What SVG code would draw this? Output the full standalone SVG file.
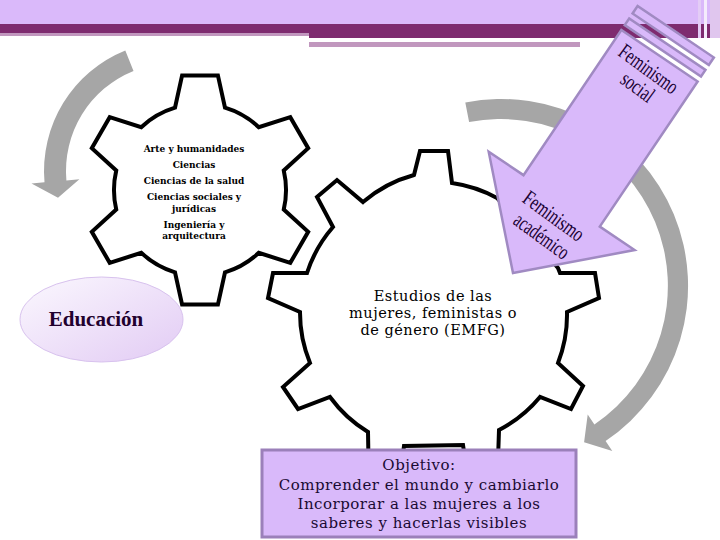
<svg xmlns="http://www.w3.org/2000/svg" width="720" height="540" viewBox="0 0 720 540">
<defs>
<linearGradient id="eduGrad" x1="0" y1="0" x2="1" y2="1">
<stop offset="0" stop-color="#FBF8FE"/>
<stop offset="1" stop-color="#E2CBF4"/>
</linearGradient>
</defs>
<style>
.gear{fill:#fff;stroke:#000;stroke-width:4;stroke-linejoin:miter}
.gray{fill:#A6A6A6}
.lav{fill:#D9B9FA;stroke:#A08AC2;stroke-width:2.5}
.fem{font-family:"Liberation Serif","Times New Roman",serif;font-size:22px;fill:#1a0033;text-anchor:middle}
.areas{font-family:"DejaVu Serif",serif;font-weight:bold;font-size:9px;fill:#000;text-anchor:middle}
.emfg{font-family:"DejaVu Serif",serif;font-size:14.5px;fill:#000;text-anchor:middle;letter-spacing:0.5px}
.obj{font-family:"DejaVu Serif",serif;font-size:15px;fill:#1a0a33;text-anchor:middle;letter-spacing:0.5px}
.edu{font-family:"Liberation Serif",serif;font-weight:bold;font-size:21px;fill:#22002e;text-anchor:middle}
</style>
<rect width="720" height="540" fill="#fff"/>
<g id="banner">
<rect width="720" height="24" fill="#DAB9FA"/>
<rect y="24" width="720" height="9" fill="#7E2B6F"/>
<rect y="33" width="309" height="3" fill="#C197BE"/>
<rect x="309" y="33" width="411" height="5" fill="#7E2B6F"/>
<rect x="309" y="42" width="271" height="5" fill="#C197BE"/>
<rect x="698" y="0" width="3" height="38" fill="#E3CCF6"/>
<rect x="704" y="0" width="3" height="38" fill="#F4ECFC"/>
<rect x="710" y="0" width="10" height="38" fill="#E0C6EE"/>
</g>
<g id="connectors">
<path class="gray" d="M125.3,50.5 A130,130 0 0 0 44.5,182.3 L31.5,183.5 L58,197.8 L79.4,179.3 L66.4,180.4 A108,108 0 0 1 133.5,70.9 Z"/>
<path class="gray" d="M465.3,102.4 A187,187 0 0 1 605.6,441 L612.3,451 L584.1,442.3 L587.7,414.5 L594.4,424.4 A167,167 0 0 0 469.1,122.1 Z"/>
</g>
<g id="gear-areas">
<path class="gear" transform="translate(200,190)" d="M-25,-82.3 L-17.9,-114.6 L17.9,-114.6 L25,-82.3 A86,86 0 0 1 58.77,-62.8 L90.29,-72.8 L108.19,-41.8 L83.77,-19.5 A86,86 0 0 1 83.77,19.5 L108.19,41.8 L90.29,72.8 L58.77,62.8 A86,86 0 0 1 25,82.3 L17.9,114.6 L-17.9,114.6 L-25,82.3 A86,86 0 0 1 -58.77,62.8 L-90.29,72.8 L-108.19,41.8 L-83.77,19.5 A86,86 0 0 1 -83.77,-19.5 L-108.19,-41.8 L-90.29,-72.8 L-58.77,-62.8 A86,86 0 0 1 -25,-82.3 Z"/>
<text class="areas" x="194" y="152">Arte y humanidades</text>
<text class="areas" x="194" y="168">Ciencias</text>
<text class="areas" x="194" y="184">Ciencias de la salud</text>
<text class="areas" x="194" y="200">Ciencias sociales y</text>
<text class="areas" x="194" y="211.5">jurídicas</text>
<text class="areas" x="194" y="228">Ingeniería y</text>
<text class="areas" x="194" y="239">arquitectura</text>
</g>
<g id="gear-emfg">
<path class="gear" d="M414,175 L420,151 L448,151 L452,183 A132,132 0 0 1 497,198 L530,235 L558,268 L560,273 L595,273 L599,298 L567,312 A132,132 0 0 1 558,363 L583,386 L571,409 L540,397 A132,132 0 0 1 499,430 L497,490 L470,490 L463,445 L404,446 L398,490 L369,490 L368,432 A132,132 0 0 1 330,397 L298,409 L283,387 L310,363 A132,132 0 0 1 300,312 L268,298 L273,273 L307,273 A132,132 0 0 1 333,227 L317,197 L337,180 L363,202 A132,132 0 0 1 414,175 Z"/>
<text class="emfg" x="433" y="301">Estudios de las</text>
<text class="emfg" x="433" y="318">mujeres, feministas o</text>
<text class="emfg" x="433" y="335">de género (EMFG)</text>
</g>
<g id="educacion">
<ellipse cx="101.5" cy="319.5" rx="81.5" ry="42.5" fill="url(#eduGrad)" stroke="#D8C2EE" stroke-width="1"/>
<text class="edu" x="96" y="326">Educación</text>
</g>
<g id="feminismo">
<g transform="translate(513,273) rotate(34)">
<polygon class="lav" points="0,0 88,-87 46,-87 46,-262 -46,-262 -46,-87 -88,-87"/>
<rect class="lav" x="-46" y="-276" width="92" height="8"/>
<rect class="lav" x="-46" y="-291" width="92" height="9"/>
</g>
<text class="fem" transform="translate(648,70) rotate(36)" y="6" textLength="68" lengthAdjust="spacingAndGlyphs">Feminismo</text>
<text class="fem" transform="translate(637,88) rotate(36)" y="6" textLength="36" lengthAdjust="spacingAndGlyphs">social</text>
<text class="fem" transform="translate(553,217) rotate(36)" y="6" textLength="70" lengthAdjust="spacingAndGlyphs">Feminismo</text>
<text class="fem" transform="translate(541,237) rotate(36)" y="6" textLength="63" lengthAdjust="spacingAndGlyphs">académico</text>
</g>
<g id="objetivo">
<rect x="262" y="450" width="314" height="87" fill="#D9B9FA" stroke="#9B80BA" stroke-width="3"/>
<text class="obj" x="419" y="470">Objetivo:</text>
<text class="obj" x="419" y="489.5">Comprender el mundo y cambiarlo</text>
<text class="obj" x="419" y="509">Incorporar a las mujeres a los</text>
<text class="obj" x="419" y="528">saberes y hacerlas visibles</text>
</g>
</svg>
